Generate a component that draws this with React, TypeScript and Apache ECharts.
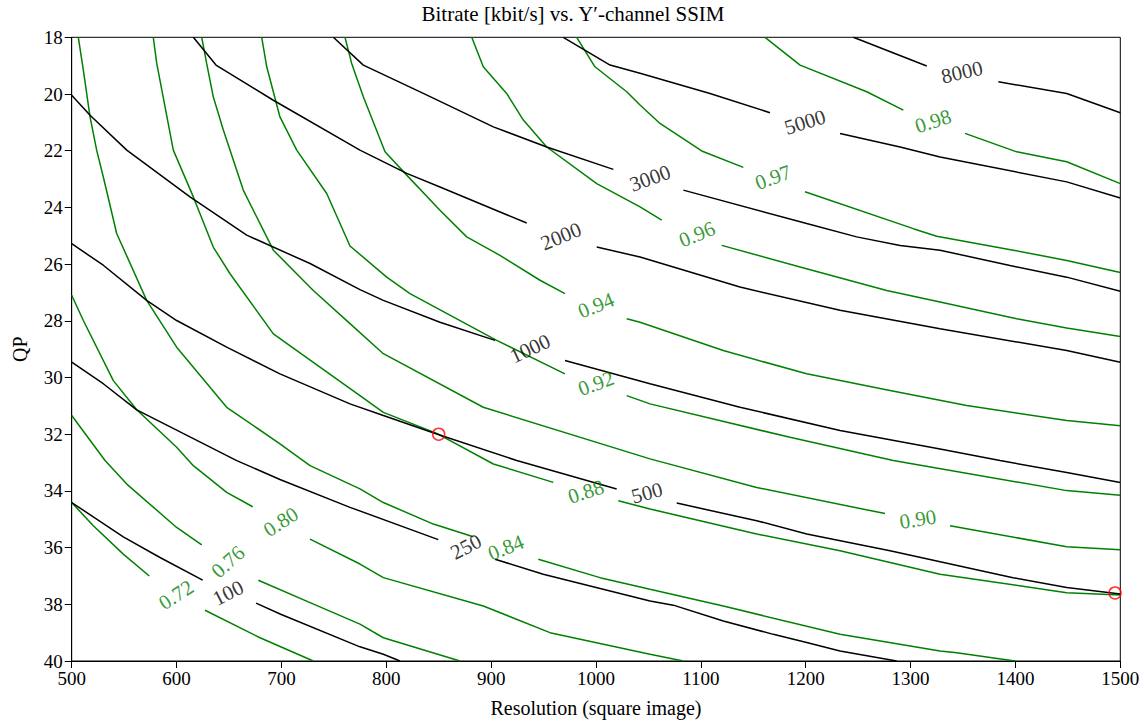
import React, { useEffect, useRef } from "react";
import * as echarts from "echarts";

// ---- Bitrate contours [kbit/s] (black); each contour is a list of segments (gaps hold labels)
const br100 = [
  [[500, 34.41], [549.2, 35.62], [584.2, 36.35], [624.9, 37.15]],
  [[675.8, 37.96], [699.3, 38.35], [774.9, 39.5], [797.2, 39.76], [813.1, 40]],
];
const br250 = [
  [[500, 29.46], [530.1, 30.22], [562, 31.14], [657.4, 32.93], [698.6, 33.6], [765.4, 34.58], [849.6, 35.72]],
  [[903.7, 36.41], [949.7, 36.94], [1051.5, 37.88], [1073.7, 38.03], [1121.4, 38.59], [1169.1, 39.06], [1200.9, 39.35], [1232.7, 39.65], [1286.8, 40]],
];
const br500 = [
  [[500, 25.28], [530.1, 26.04], [571.5, 27.28], [600.1, 27.99], [647.8, 28.93], [698.6, 29.87], [765.4, 30.93], [797.2, 31.34], [848.1, 31.99], [924.4, 32.93], [1019.7, 33.93]],
  [[1077, 34.43], [1153.2, 35.05], [1201, 35.52], [1280.4, 36.11], [1397.7, 37.06], [1448.9, 37.41], [1500, 37.64]],
];
const br1000 = [
  [[500, 20.04], [517.5, 20.75], [552.5, 21.98], [612.8, 23.63], [666.9, 24.98], [727.3, 25.98], [774.9, 26.9], [797.2, 27.28], [851.2, 28.05], [903.7, 28.69]],
  [[970.4, 29.4], [1051.5, 30.22], [1137.3, 31.05], [1232.7, 31.87], [1328.1, 32.52], [1385.3, 32.93], [1448.9, 33.35], [1500, 33.7]],
];
const br2000 = [
  [[616, 18], [637.6, 18.98], [692.3, 20.22], [774.9, 21.98], [819.5, 22.8], [851.2, 23.28], [933.9, 24.55]],
  [[1000.7, 25.4], [1042, 25.75], [1137.3, 26.81], [1232.7, 27.63], [1328.1, 28.28], [1448.9, 29.05], [1500, 29.46]],
];
const br3000 = [
  [[749.5, 18], [778.1, 18.98], [835.3, 19.98], [902.1, 21.16], [953, 21.87], [1016.5, 22.66]],
  [[1083.3, 23.39], [1200.9, 24.57], [1248.6, 25.04], [1290, 25.34], [1328.1, 25.51], [1394.8, 26.05], [1448.9, 26.46], [1500, 26.96]],
];
const br5000 = [
  [[968.8, 18], [1013.4, 18.98], [1042, 19.27], [1108.7, 19.98], [1165.9, 20.66]],
  [[1232.7, 21.39], [1290, 21.87], [1328.1, 22.22], [1448.9, 23.1], [1500, 23.67]],
];
const br8000 = [
  [[1245.4, 18], [1315.4, 19.01]],
  [[1383.7, 19.57], [1448.9, 19.98], [1500, 20.66]],
];

// ---- SSIM contours (green)
const s072 = [
  [[500, 34.41], [520.6, 35.23], [549.2, 36.23], [574, 37.0]],
  [[627.1, 38.21], [679.6, 39.18], [730.4, 40]],
];
const s076 = [
  [[500, 31.34], [531.8, 32.93], [552.5, 33.76], [600.1, 35.29], [624, 35.9]],
  [[678, 37.15], [727.3, 37.94], [774.9, 38.7], [797.2, 39.18], [870.3, 40]],
];
const s080 = [
  [[500, 27.1], [511.1, 27.99], [539.7, 30.11], [562, 31.14], [600.1, 32.46], [616, 33.11], [647.8, 34.05], [672.6, 34.56]],
  [[727.3, 35.7], [774.9, 36.58], [797.2, 37.06], [892.5, 38.06], [956.1, 39.0], [1051.5, 39.76], [1083.2, 40]],
];
const s084 = [
  [[506.3, 18], [511.1, 19.16], [517.5, 20.81], [523.8, 21.98], [530.1, 22.92], [542.9, 24.92], [571.5, 27.28], [600.1, 28.93], [647.8, 31.05], [698.6, 32.34], [727.3, 33.11], [774.9, 33.93], [797.2, 34.41], [844.9, 35.17], [883, 35.62]],
  [[945, 36.41], [1003.8, 37.06], [1051.5, 37.47], [1121.4, 38.06], [1232.7, 39.06], [1328.1, 39.65], [1344, 39.71], [1399.6, 40]],
];
const s088 = [
  [[577.8, 18], [581.1, 18.92], [596.9, 21.98], [616, 23.63], [635, 25.4], [651, 26.34], [692.3, 28.46], [774.9, 30.64], [797.2, 31.23], [848.1, 31.97], [902.1, 33.05], [959.3, 33.7]],
  [[1021.3, 34.35], [1051.5, 34.64], [1153.2, 35.52], [1232.7, 36.11], [1328.1, 36.94], [1448.9, 37.59], [1500, 37.67]],
];
const s090 = [
  [[624, 18], [628.7, 18.92], [635, 20.1], [644.6, 21.27], [663.6, 23.39], [692.3, 25.51], [730.4, 26.93], [765.4, 28.1], [797.2, 29.16], [892.5, 31.05], [1051.5, 32.87], [1153.2, 33.88], [1275.6, 34.8]],
  [[1337.6, 35.23], [1448.9, 35.97], [1500, 36.08]],
];
const s092 = [
  [[681.2, 18], [686, 19.04], [698.6, 20.81], [714.6, 21.98], [743.2, 23.51], [765.4, 25.36], [800.4, 26.46], [822.6, 27.04], [905.3, 28.69], [970.4, 29.87]],
  [[1029.3, 30.64], [1051.5, 30.93], [1185, 32.11], [1283.5, 32.93], [1448.9, 33.99], [1500, 34.15]],
];
const s094 = [
  [[760.6, 18], [767, 18.92], [778.1, 20.1], [798.8, 22.04], [817.9, 22.8], [851.2, 24.1], [876.7, 25.04], [908.4, 25.69], [946.6, 26.57], [970.4, 27.04]],
  [[1029.3, 27.93], [1042, 28.05], [1121.4, 29.05], [1200.9, 29.87], [1280.4, 30.46], [1353.5, 30.99], [1448.9, 31.52], [1500, 31.7]],
];
const s096 = [
  [[881.5, 18], [892.5, 19.04], [914.8, 19.98], [930.7, 20.92], [953, 21.87], [1000.7, 23.16], [1042, 23.98], [1062.7, 24.45]],
  [[1119.9, 25.34], [1194.6, 26.1], [1277.2, 26.93], [1328.1, 27.34], [1401.2, 27.93], [1448.9, 28.25], [1500, 28.55]],
];
const s097 = [
  [[981.6, 18], [999, 19.04], [1029.3, 19.92], [1042, 20.39], [1061, 21.04], [1100.8, 22.01], [1140.5, 22.59]],
  [[1199.3, 23.45], [1302.6, 24.75], [1324.9, 25.02], [1398, 25.51], [1448.9, 25.87], [1500, 26.3]],
];
const s098 = [
  [[1161.2, 18], [1194.6, 18.98], [1258.2, 19.92], [1293.1, 20.57]],
  [[1351.9, 21.39], [1401.2, 22.04], [1448.9, 22.39], [1500, 23.16]],
];

// ---- Inline contour labels: [text, resolution, QP, angle]
const bitrateLabels: [string, number, number, number][] = [
  ["100", 649.1, 37.6, 27],
  ["250", 876, 35.97, 28],
  ["500", 1048.6, 34.07, 15],
  ["1000", 937.1, 28.98, 25],
  ["2000", 966.6, 25.02, 22],
  ["3000", 1051.5, 22.97, 20],
  ["5000", 1199.3, 20.99, 17],
  ["8000", 1349, 19.23, 13],
];
const ssimLabels: [string, number, number, number][] = [
  ["0.72", 599.5, 37.67, 33],
  ["0.76", 649.1, 36.5, 42],
  ["0.80", 699.5, 35.09, 33],
  ["0.84", 914.1, 36.0, 22],
  ["0.88", 990.4, 34.03, 18],
  ["0.90", 1307, 35.0, 9],
  ["0.92", 1000, 30.21, 20],
  ["0.94", 1000, 27.46, 22],
  ["0.96", 1096.3, 24.95, 22],
  ["0.97", 1168.8, 22.94, 20],
  ["0.98", 1321.4, 20.96, 18],
];

// ---- Highlighted points
const markerPoints = [[850, 32], [1495, 37.6]];

const xTicks = { min: 500, max: 1500, step: 100 };
const yTicks = { min: 18, max: 40, step: 2 };

const FONT = "Liberation Serif";
const GREEN = "#008000";
const BLACK = "#000000";

function segSeries(contours: number[][][][], color: string) {
  const out: any[] = [];
  contours.forEach((c) =>
    c.forEach((seg) =>
      out.push({
        type: "line",
        data: seg,
        symbol: "none",
        silent: true,
        lineStyle: { color, width: 1.5 },
        z: 2,
      })
    )
  );
  return out;
}

function labelSeries(labels: [string, number, number, number][], color: string) {
  return {
    type: "scatter",
    symbolSize: 0,
    silent: true,
    z: 5,
    data: labels.map(([t, x, y, r]) => ({
      value: [x, y],
      label: {
        show: true,
        position: "inside",
        formatter: t,
        rotate: r,
        color,
        fontFamily: FONT,
        fontSize: 21,
      },
    })),
  };
}

export default function App() {
  const ref = useRef<HTMLDivElement>(null);
  useEffect(() => {
    if (!ref.current) return;
    const chart = echarts.init(ref.current, undefined, { renderer: "svg" });
    const axisCommon = {
      axisLine: { show: true, lineStyle: { color: BLACK, width: 1 } },
      axisTick: { show: true, inside: false, length: 7, lineStyle: { color: BLACK, width: 1 } },
      splitLine: { show: false },
      axisLabel: { color: BLACK, fontFamily: FONT, fontSize: 19, formatter: (v: number) => String(v) },
      nameTextStyle: { color: BLACK, fontFamily: FONT, fontSize: 20 },
    };
    chart.setOption({
      animation: false,
      backgroundColor: "#ffffff",
      title: {
        text: "Bitrate [kbit/s] vs. Y\u2032-channel SSIM",
        left: "center",
        top: 3,
        padding: 0,
        textStyle: { color: BLACK, fontFamily: FONT, fontSize: 21, fontWeight: "normal" },
      },
      grid: {
        left: 71.7,
        right: 25.7,
        top: 37.3,
        bottom: 59,
        containLabel: false,
        outerBoundsMode: "none",
        show: true,
        borderColor: BLACK,
        borderWidth: 1,
        backgroundColor: "transparent",
      },
      xAxis: {
        type: "value",
        min: xTicks.min,
        max: xTicks.max,
        interval: xTicks.step,
        name: "Resolution (square image)",
        nameLocation: "middle",
        nameGap: 37,
        ...axisCommon,
        axisLabel: { ...axisCommon.axisLabel, margin: 8 },
      },
      yAxis: {
        type: "value",
        min: yTicks.min,
        max: yTicks.max,
        interval: yTicks.step,
        inverse: true,
        name: "QP",
        nameLocation: "middle",
        nameGap: 42,
        ...axisCommon,
        axisLabel: { ...axisCommon.axisLabel, margin: 9 },
      },
      series: [
        ...segSeries([s072, s076, s080, s084, s088, s090, s092, s094, s096, s097, s098], GREEN),
        ...segSeries([br100, br250, br500, br1000, br2000, br3000, br5000, br8000], BLACK),
        labelSeries(ssimLabels, GREEN),
        labelSeries(bitrateLabels, BLACK),
        {
          type: "scatter",
          data: markerPoints,
          symbol: "circle",
          symbolSize: 12,
          silent: true,
          z: 6,
          itemStyle: { color: "transparent", borderColor: "#ff0000", borderWidth: 1.5 },
        },
      ],
    });
    return () => chart.dispose();
  }, []);
  return (
    <div
      ref={ref}
      style={{ position: "absolute", left: 0, top: 0, width: 1146, height: 720 }}
    />
  );
}
